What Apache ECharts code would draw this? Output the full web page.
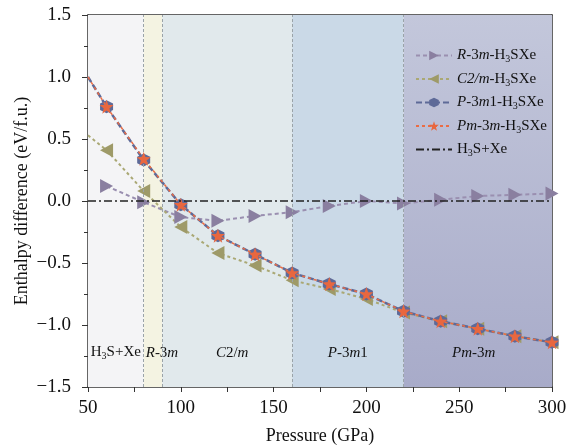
<!DOCTYPE html>
<html lang="en">
<head>
    <meta charset="UTF-8">
    <title>enthalpy difference</title>
    <script src="https://cdn.jsdelivr.net/npm/echarts@6/dist/echarts.min.js"></script>
    <style type="text/css">
        html, body { margin: 0; padding: 0; background: #fff; }
        #main { width: 569px; height: 447px; }
    </style>
</head>
<body>
<div id="main"></div>
<script>
    // pressures (GPa)
    var pressure = [50, 60, 80, 100, 120, 140, 160, 180, 200, 220, 240, 260, 280, 300];
    // enthalpy difference (eV/f.u.), null = no point
    var r3m  = [null, 0.12, -0.01, -0.13, -0.16, -0.12, -0.09, -0.04, 0.00, -0.02, 0.01, 0.04, 0.05, 0.06];
    var c2m  = [0.53, 0.41, 0.08, -0.21, -0.42, -0.52, -0.64, -0.71, -0.79, -0.90, -0.97, -1.03, -1.09, -1.14];
    var p3m1 = [1.00, 0.76, 0.33, -0.03, -0.28, -0.43, -0.58, -0.67, -0.75, -0.89, -0.97, -1.03, -1.09, -1.14];
    var pm3m = [1.00, 0.76, 0.34, -0.03, -0.28, -0.43, -0.58, -0.67, -0.75, -0.89, -0.97, -1.03, -1.09, -1.14];
    var refLine = [[50, 0], [300, 0]];

    // phase regions
    var phaseNames  = ['H3S+Xe', 'R-3m', 'C2/m', 'P-3m1', 'Pm-3m'];
    var phaseBounds = [50, 80, 90, 160, 220, 300];
    var phaseLabels = ['{n|H}{s|3}{n|S+Xe}', '{i|R}{n|-3}{i|m}', '{i|C}{n|2/}{i|m}', '{i|P}{n|-3}{i|m}{n|1}', '{i|Pm}{n|-3}{i|m}'];
    var phaseLabelShift = [0, 9, 5, 0, -4];

    var seriesNames = ['R-3m-H3SXe', 'C2/m-H3SXe', 'P-3m1-H3SXe', 'Pm-3m-H3SXe', 'H3S+Xe'];
    var legendText = {
        'R-3m-H3SXe': '{i|R}{n|-3}{i|m}{n|-H}{s|3}{n|SXe}',
        'C2/m-H3SXe': '{i|C2/m}{n|-H}{s|3}{n|SXe}',
        'P-3m1-H3SXe': '{i|P}{n|-3}{i|m}{n|1-H}{s|3}{n|SXe}',
        'Pm-3m-H3SXe': '{i|Pm}{n|-3}{i|m}{n|-H}{s|3}{n|SXe}',
        'H3S+Xe': '{n|H}{s|3}{n|S+Xe}'
    };

    var SERIF = 'Liberation Serif';
    var richStyle = {
        n: { fontFamily: SERIF, fontSize: 15, color: '#111' },
        i: { fontFamily: SERIF, fontSize: 15, fontStyle: 'italic', color: '#111' },
        s: { fontFamily: SERIF, fontSize: 10, color: '#111', verticalAlign: 'bottom', padding: [8, 0, 0, 0] }
    };

    var STAR = 'path://M100 0 L123.5 67.6 L195.1 69.1 L138 112.4 L158.8 180.9 L100 140 L41.2 180.9 L62 112.4 L4.9 69.1 L76.5 67.6 Z';
    var HEX = 'path://M50 0 L93.3 25 L93.3 75 L50 100 L6.7 75 L6.7 25 Z';
    var TRI_R = 'path://M0 0 L100 50 L0 100 Z';
    var TRI_L = 'path://M100 0 L0 50 L100 100 Z';

    function pairs(ys) {
        var out = [];
        for (var i = 0; i < pressure.length; i++) {
            if (ys[i] === null) continue;
            if (pressure[i] === 50) {
                out.push({ value: [pressure[i], ys[i]], symbol: 'none' });
            } else {
                out.push([pressure[i], ys[i]]);
            }
        }
        return out;
    }

    var regionColors = [
        '#f4f4f6',
        '#f4f3e2',
        '#e1e9ec',
        '#cad9e7',
        { type: 'linear', x: 0, y: 0, x2: 0, y2: 1,
          colorStops: [{ offset: 0, color: '#c3c7db' }, { offset: 1, color: '#a8abc9' }] }
    ];

    var areas = [];
    for (var k = 0; k < phaseNames.length; k++) {
        areas.push([
            { name: phaseNames[k], xAxis: phaseBounds[k], itemStyle: { color: regionColors[k] },
              label: { formatter: phaseLabels[k], offset: [phaseLabelShift[k], 0] } },
            { xAxis: phaseBounds[k + 1] }
        ]);
    }
    var bounds = [];
    for (var b = 1; b < phaseBounds.length - 1; b++) bounds.push({ xAxis: phaseBounds[b] });

    // legend entries; the reference line has no marker
    var legendData = seriesNames.map(function (n) {
        if (n === 'H3S+Xe') {
            return { name: n, itemStyle: { color: 'rgba(0,0,0,0)', borderColor: 'rgba(0,0,0,0)', borderWidth: 0 } };
        }
        return { name: n };
    });

    function fmt(v) {
        return v.toFixed(1).replace('-', '\u2212');
    }

    var myChart = echarts.init(document.getElementById('main'));

    var frame = {
        axisLine: { show: true, onZero: false, lineStyle: { color: '#333', width: 1.5 } },
        axisTick: { show: false }, axisLabel: { show: false }, splitLine: { show: false }
    };

    var option = {
        animation: false,
        grid: { left: 88, right: 17, top: 15, bottom: 60, containLabel: false, outerBoundsMode: 'none' },
        legend: {
            data: legendData,
            orient: 'vertical',
            left: 410,
            top: 43,
            itemWidth: 36,
            itemHeight: 12,
            itemGap: 7,
            formatter: function (name) { return legendText[name]; },
            textStyle: { rich: richStyle }
        },
        xAxis: [{
            type: 'value',
            min: 50, max: 300, interval: 50,
            name: 'Pressure (GPa)',
            nameLocation: 'middle',
            nameGap: 40,
            nameTextStyle: { fontFamily: SERIF, fontSize: 18, color: '#111' },
            axisLine: { show: true, onZero: false, lineStyle: { color: '#333', width: 1.5 } },
            axisTick: { show: true, inside: false, length: 5, lineStyle: { color: '#333' } },
            minorTick: { show: true, splitNumber: 2, length: 5, lineStyle: { color: '#333' } },
            splitLine: { show: false },
            axisLabel: { fontFamily: SERIF, fontSize: 19, color: '#111', margin: 12 }
        }, Object.assign({ type: 'value', min: 50, max: 300, position: 'top' }, frame)],
        yAxis: [{
            type: 'value',
            min: -1.5, max: 1.5, interval: 0.5,
            name: 'Enthalpy difference (eV/f.u.)',
            nameLocation: 'middle',
            nameGap: 57,
            nameMoveOverlap: false,
            nameTextStyle: { fontFamily: SERIF, fontSize: 18, color: '#111' },
            axisLine: { show: true, lineStyle: { color: '#333', width: 1.5 } },
            axisTick: { show: true, inside: false, length: 6, lineStyle: { color: '#333' } },
            minorTick: { show: true, splitNumber: 2, length: 4, lineStyle: { color: '#333' } },
            splitLine: { show: false },
            axisLabel: { fontFamily: SERIF, fontSize: 19, color: '#111', margin: 17, formatter: fmt }
        }, Object.assign({ type: 'value', min: -1.5, max: 1.5, position: 'right' }, frame)],
        series: [
            {
                name: 'phases',
                type: 'line',
                data: [],
                silent: true,
                markArea: {
                    silent: true,
                    data: areas,
                    label: {
                        show: true,
                        position: 'insideBottom',
                        distance: 26,
                        rich: richStyle
                    }
                },
                markLine: {
                    silent: true,
                    symbol: 'none',
                    label: { show: false },
                    lineStyle: { color: '#9aa3a8', type: [3, 2], width: 1 },
                    data: bounds
                }
            },
            {
                name: 'R-3m-H3SXe',
                type: 'line',
                data: pairs(r3m),
                symbol: TRI_R,
                symbolSize: [13, 14],
                itemStyle: { color: '#8a7fa0' },
                lineStyle: { color: '#9a8fb0', type: [4, 3], width: 2 },
                z: 3
            },
            {
                name: 'C2/m-H3SXe',
                type: 'line',
                data: pairs(c2m),
                symbol: TRI_L,
                symbolSize: [13, 14],
                itemStyle: { color: '#9e9a68' },
                lineStyle: { color: '#aaa874', type: [3, 3], width: 2 },
                z: 3
            },
            {
                name: 'P-3m1-H3SXe',
                type: 'line',
                data: pairs(p3m1),
                symbol: HEX,
                symbolSize: 13,
                itemStyle: { color: '#5e6a98' },
                lineStyle: { color: '#5e6a98', type: [6, 3], width: 2.5 },
                z: 4
            },
            {
                name: 'Pm-3m-H3SXe',
                type: 'line',
                data: pairs(pm3m),
                symbol: STAR,
                symbolSize: 14,
                itemStyle: { color: '#e8673f' },
                lineStyle: { color: '#ea6c44', type: [3, 3], width: 1.5 },
                z: 5
            },
            {
                name: 'H3S+Xe',
                type: 'line',
                data: refLine,
                symbol: 'none',
                itemStyle: { color: '#222' },
                lineStyle: { color: '#222', type: [8, 3, 2, 3], width: 1.5 },
                z: 6
            }
        ]
    };

    myChart.setOption(option);
</script>
</body>
</html>
